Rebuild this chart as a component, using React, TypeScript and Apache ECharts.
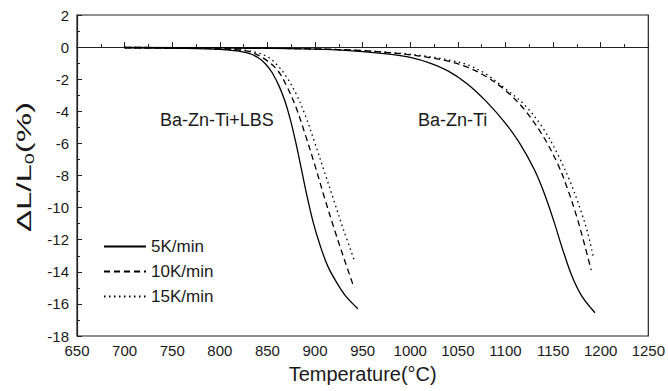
import React, { useEffect, useRef } from "react";
import * as echarts from "echarts";

// Temperature (°C) and shrinkage ΔL/L0 (%)
const lbs5T = [700, 760, 800, 820, 830, 840, 848, 855, 862, 868, 874, 880, 886, 892, 898, 905, 913, 922, 932, 945];
const lbs5V = [-0.05, -0.08, -0.14, -0.25, -0.38, -0.65, -1.05, -1.6, -2.4, -3.3, -4.5, -6.0, -7.7, -9.4, -10.9, -12.3, -13.6, -14.6, -15.5, -16.3];

const lbs10T = [700, 760, 800, 820, 832, 846, 860, 870, 880, 890, 900, 910, 920, 930, 941];
const lbs10V = [-0.05, -0.06, -0.1, -0.18, -0.3, -0.7, -1.4, -2.4, -3.75, -5.5, -7.4, -9.4, -11.3, -13.1, -15.0];

const lbs15T = [700, 760, 800, 820, 836, 850, 860, 870, 880, 890, 900, 910, 920, 930, 942];
const lbs15V = [-0.05, -0.06, -0.1, -0.16, -0.3, -0.6, -1.1, -1.85, -2.9, -4.3, -6.0, -7.8, -9.6, -11.4, -13.4];

const bzt5T = [700, 800, 900, 950, 980, 1000, 1020, 1040, 1060, 1080, 1100, 1115, 1130, 1140, 1150, 1160, 1170, 1180, 1194];
const bzt5V = [-0.02, -0.05, -0.13, -0.28, -0.45, -0.64, -0.98, -1.5, -2.3, -3.4, -4.75, -6.0, -7.6, -9.0, -10.7, -12.6, -14.3, -15.5, -16.55];

const bzt10T = [700, 800, 900, 950, 980, 1000, 1020, 1040, 1060, 1080, 1100, 1120, 1140, 1155, 1165, 1175, 1183, 1190];
const bzt10V = [-0.02, -0.05, -0.11, -0.22, -0.36, -0.48, -0.65, -0.88, -1.25, -1.85, -2.7, -3.9, -5.6, -7.3, -8.8, -10.6, -12.3, -13.9];

const bzt15T = [700, 800, 900, 950, 980, 1000, 1020, 1040, 1060, 1080, 1100, 1120, 1140, 1155, 1168, 1178, 1186, 1192];
const bzt15V = [-0.02, -0.05, -0.11, -0.22, -0.34, -0.45, -0.6, -0.8, -1.1, -1.7, -2.6, -3.6, -5.1, -6.7, -8.4, -10.0, -11.5, -13.0];

const rateNames = ["5K/min", "10K/min", "15K/min"];
const sampleLabels = ["Ba-Zn-Ti+LBS", "Ba-Zn-Ti"];

const FONT = "'Liberation Sans', Arial, sans-serif";
const INK = "#1a1a1a";

const zip = (t: number[], v: number[]) => t.map((x, i) => [x, v[i]]);

const lineTypes: any[] = ["solid", [6, 4], [1.5, 3.5]];

function mkSeries(name: string, t: number[], v: number[], typeIdx: number) {
  return {
    type: "line",
    name,
    data: zip(t, v),
    symbol: "none",
    smooth: 0.35,
    lineStyle: { color: "#000", width: 1.3, type: lineTypes[typeIdx] },
    itemStyle: { color: "#000" },
  };
}

const option: any = {
  animation: false,
  backgroundColor: "#fff",
  textStyle: { fontFamily: FONT },
  grid: {
    left: 77,
    right: 12,
    top: 15,
    bottom: 55,
    show: true,
    borderColor: "#222",
    borderWidth: 1.2,
    backgroundColor: "transparent",
  },
  legend: {
    data: rateNames,
    orient: "vertical",
    left: 103,
    top: 238,
    padding: 0,
    itemWidth: 42,
    itemHeight: 14,
    itemGap: 8,
    itemTextGap: 6,
    itemStyle: { opacity: 0, color: "rgba(0,0,0,0)", borderWidth: 0 },
    textStyle: { fontSize: 17, color: INK, fontFamily: FONT },
  },
  xAxis: {
    type: "value",
    min: 650,
    max: 1250,
    interval: 50,
    name: "Temperature(°C)",
    nameLocation: "middle",
    nameGap: 28,
    nameTextStyle: { fontSize: 20, color: INK, fontFamily: FONT },
    axisLine: { show: true, lineStyle: { color: "#222", width: 1.2 } },
    axisTick: { show: true, inside: true, length: 5, lineStyle: { color: "#222", width: 1 } },
    minorTick: { show: true, splitNumber: 2, length: 3, lineStyle: { color: "#222", width: 1 } },
    splitLine: { show: false },
    axisLabel: {
      fontSize: 15,
      color: INK,
      margin: 7,
      fontFamily: FONT,
      formatter: (v: number) => String(v),
    },
  },
  yAxis: {
    type: "value",
    min: -18,
    max: 2,
    interval: 2,
    axisLine: { show: true, lineStyle: { color: "#222", width: 1.2 } },
    axisTick: { show: true, inside: true, length: 5, lineStyle: { color: "#222", width: 1 } },
    minorTick: { show: true, splitNumber: 2, length: 3, lineStyle: { color: "#222", width: 1 } },
    splitLine: { show: false },
    axisLabel: { fontSize: 15, color: INK, margin: 8, fontFamily: FONT, formatter: (v: number) => String(v) },
  },
  graphic: [
    {
      type: "text",
      x: 160,
      y: 120,
      style: {
        text: sampleLabels[0],
        fontSize: 18,
        fontFamily: FONT,
        fill: INK,
        align: "left",
        verticalAlign: "middle",
        textAlign: "left",
        textVerticalAlign: "middle",
      },
    },
    {
      type: "text",
      x: 418,
      y: 120,
      style: {
        text: sampleLabels[1],
        fontSize: 18,
        fontFamily: FONT,
        fill: INK,
        align: "left",
        verticalAlign: "middle",
        textAlign: "left",
        textVerticalAlign: "middle",
      },
    },
    {
      type: "text",
      x: 24,
      y: 167,
      rotation: Math.PI / 2,
      scaleX: 1.65,
      style: {
        text: "{a|ΔL/L}{s|0}{a|(%)}",
        fontFamily: FONT,
        fill: INK,
        align: "center",
        verticalAlign: "middle",
        textAlign: "center",
        textVerticalAlign: "middle",
        rich: {
          a: { fontSize: 20, lineHeight: 24, fontFamily: FONT, fill: INK, color: INK },
          s: { fontSize: 12, lineHeight: 12, verticalAlign: "bottom", fontFamily: FONT, fill: INK, color: INK },
        },
      },
    },
  ],
  series: [
    mkSeries(rateNames[0], lbs5T, lbs5V, 0),
    mkSeries(rateNames[1], lbs10T, lbs10V, 1),
    mkSeries(rateNames[2], lbs15T, lbs15V, 2),
    mkSeries(rateNames[0], bzt5T, bzt5V, 0),
    mkSeries(rateNames[1], bzt10T, bzt10V, 1),
    mkSeries(rateNames[2], bzt15T, bzt15V, 2),
  ],
};

export default function App() {
  const ref = useRef<HTMLDivElement>(null);
  useEffect(() => {
    const chart = echarts.init(ref.current!, null, { renderer: "svg" });
    chart.setOption(option);
    return () => chart.dispose();
  }, []);
  return (
    <div
      ref={ref}
      style={{ position: "absolute", left: 0, top: 0, width: 668, height: 391, background: "#fff" }}
    />
  );
}
